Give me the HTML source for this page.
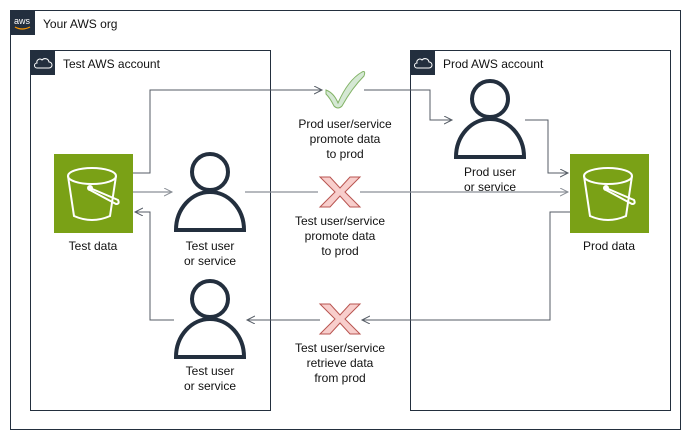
<!DOCTYPE html>
<html><head><meta charset="utf-8"><style>body{margin:0;background:#fff}svg{display:block}text{font-family:"Liberation Sans",sans-serif;font-size:12px;fill:#111}</style></head><body>
<svg width="691" height="441" viewBox="0 0 691 441">
<defs>
<marker id="a" markerWidth="10" markerHeight="10" refX="8" refY="4" orient="auto" markerUnits="userSpaceOnUse"><path d="M0,0 L8,4 L0,8" fill="none" stroke="#545b64" stroke-width="1"/></marker>
<marker id="g" markerWidth="10" markerHeight="10" refX="8" refY="4" orient="auto" markerUnits="userSpaceOnUse"><path d="M0,0 L8,4 L0,8" fill="none" stroke="#8a8f96" stroke-width="1"/></marker>
<g id="person" fill="none" stroke="#232f3e" stroke-width="4"><circle cx="0" cy="-58" r="18"/><path d="M-34,0 A34,38 0 0 1 34,0 Z"/></g>
<g id="bucket"><rect x="0" y="0" width="79" height="79" fill="#7aa116"/><g fill="none" stroke="#fff" stroke-width="2"><ellipse cx="38" cy="22" rx="24" ry="8"/><path d="M14,22 L20,62 Q38,70 56,62 L62,22"/><path d="M36,34 L64,46 Q66,50 62,50 L36,36"/><circle cx="36" cy="34" r="2" fill="#fff"/></g></g>
</defs>
<rect x="10.5" y="10.5" width="670" height="419" fill="none" stroke="#232f3e"/>
<rect x="10" y="10" width="25" height="25" fill="#232f3e"/>
<text x="14" y="24" style="font-size:9px;fill:#fff">aws</text>
<path d="M15,27 Q22,31 30,27" stroke="#f90" fill="none" stroke-width="1.2"/>
<text x="43" y="28">Your AWS org</text>
<rect x="30.5" y="50.5" width="240" height="360" fill="none" stroke="#232f3e"/>
<rect x="30" y="50" width="25" height="25" fill="#232f3e"/>
<path d="M37,68 h12 a3,3 0 0 0 0,-6 a4,4 0 0 0 -7,-2 a3,3 0 0 0 -5,3 a2.5,2.5 0 0 0 0,5z" fill="none" stroke="#fff" stroke-width="1"/>
<text x="63" y="68">Test AWS account</text>
<rect x="410.5" y="50.5" width="260" height="360" fill="none" stroke="#232f3e"/>
<rect x="410" y="50" width="25" height="25" fill="#232f3e"/>
<path d="M417,68 h12 a3,3 0 0 0 0,-6 a4,4 0 0 0 -7,-2 a3,3 0 0 0 -5,3 a2.5,2.5 0 0 0 0,5z" fill="none" stroke="#fff" stroke-width="1"/>
<text x="443" y="68">Prod AWS account</text>
<use href="#bucket" x="54" y="154"/>
<use href="#bucket" x="570" y="154"/>
<text x="93" y="250" text-anchor="middle">Test data</text>
<text x="609" y="250" text-anchor="middle">Prod data</text>
<use href="#person" x="210" y="230"/>
<use href="#person" x="210" y="357"/>
<use href="#person" x="490" y="157"/>
<text x="210" y="250" text-anchor="middle">Test user</text><text x="210" y="265" text-anchor="middle">or service</text>
<text x="210" y="375" text-anchor="middle">Test user</text><text x="210" y="390" text-anchor="middle">or service</text>
<text x="490" y="176" text-anchor="middle">Prod user</text><text x="490" y="191" text-anchor="middle">or service</text>
<g fill="none" stroke="#545b64" stroke-width="1">
<path d="M133,173 H150 V90 H322" marker-end="url(#a)"/>
<path d="M364,90 H430 V120 H452" marker-end="url(#a)"/>
<path d="M525,120 H548 V173 H568" marker-end="url(#a)"/>
<path d="M570,212 H550 V320 H362" marker-end="url(#a)"/>
<path d="M320,320 H247" marker-end="url(#a)"/>
<path d="M174,320 H150 V212 H135" marker-end="url(#a)"/>
</g>
<g fill="none" stroke="#8a8f96" stroke-width="1.2">
<path d="M133,192 H172" marker-end="url(#g)"/>
<path d="M245,192 H318"/>
<path d="M360,192 H568" marker-end="url(#g)"/>
</g>
<path d="M326,90 Q334,93 338,103 Q348,80 362,72 Q366,70 364,76 Q352,88 342,106 Q338,110 334,106 Q330,98 326,94z" fill="#d5e8d4" stroke="#82b366"/>
<text x="345" y="128" text-anchor="middle">Prod user/service</text><text x="345" y="143" text-anchor="middle">promote data</text><text x="345" y="158" text-anchor="middle">to prod</text>
<path d="M320,177 h10 l10,11 l10,-11 h10 l-15,15 l15,15 h-10 l-10,-11 l-10,11 h-10 l15,-15z" fill="#f8cecc" stroke="#b85450"/>
<text x="340" y="225" text-anchor="middle">Test user/service</text><text x="340" y="240" text-anchor="middle">promote data</text><text x="340" y="255" text-anchor="middle">to prod</text>
<path d="M320,304 h10 l10,11 l10,-11 h10 l-15,15 l15,15 h-10 l-10,-11 l-10,11 h-10 l15,-15z" fill="#f8cecc" stroke="#b85450"/>
<text x="340" y="352" text-anchor="middle">Test user/service</text><text x="340" y="367" text-anchor="middle">retrieve data</text><text x="340" y="382" text-anchor="middle">from prod</text>
</svg>
</body></html>
